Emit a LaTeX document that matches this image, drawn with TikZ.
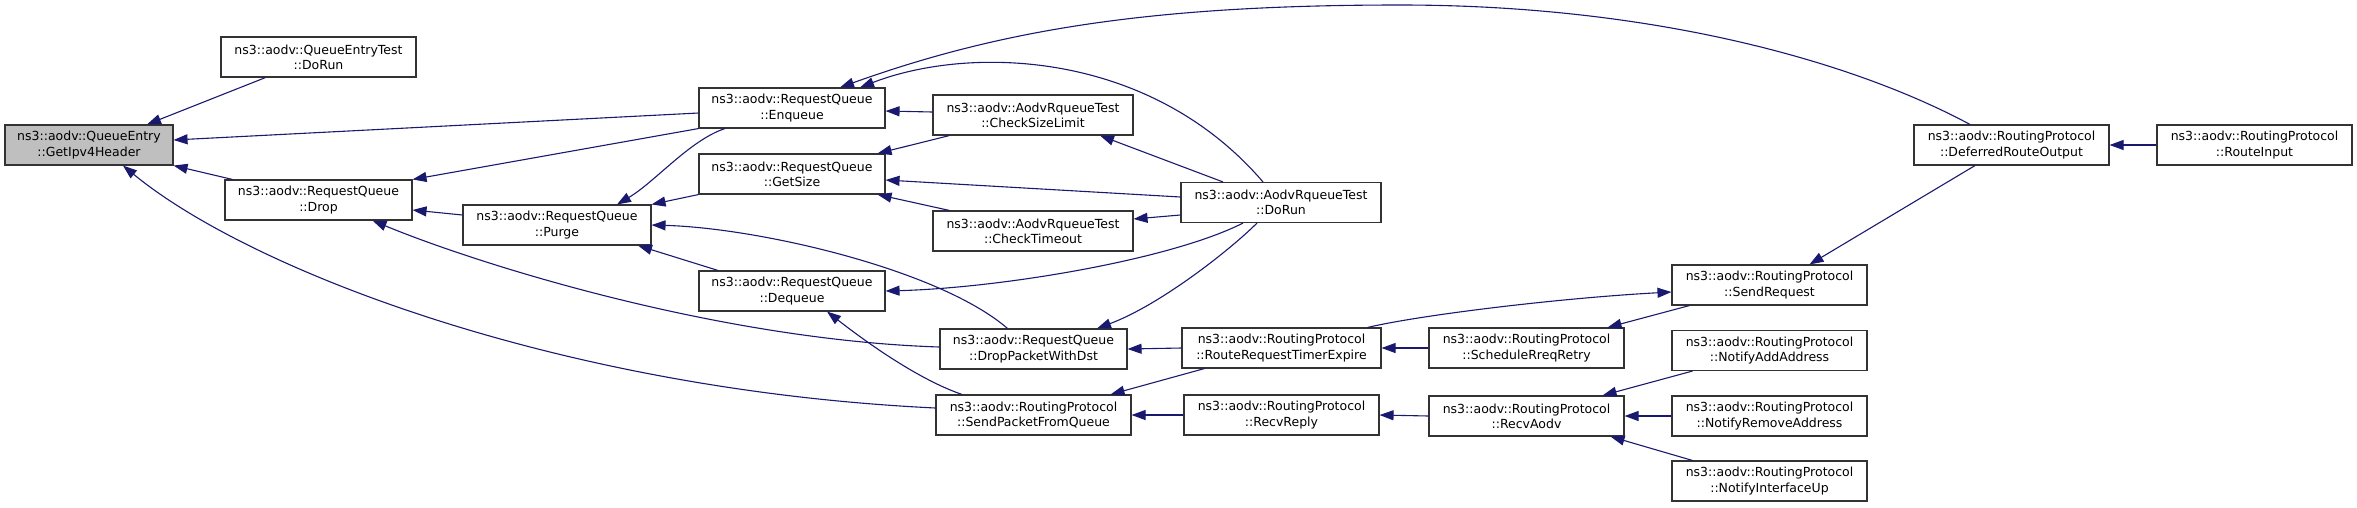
\documentclass[tikz,border=0pt]{standalone}
\usepackage{fontspec}
\setmainfont{DejaVu Sans}
\usetikzlibrary{arrows.meta}
\definecolor{edgec}{HTML}{191970}
\begin{document}
\begin{tikzpicture}[x=1pt,y=-1pt,
 box/.style={draw=black!80, line width=1.1pt, fill=white, minimum height=40pt, inner sep=0pt, align=center, font=\fontsize{12.5}{15.3}\selectfont},
 root/.style={box, fill=black!25},
 edge/.style={draw=edgec, line width=1.1pt, {Triangle[length=14pt,width=10pt]}-}
]
\useasboundingbox (0,0) rectangle (2357,507);
% nodes
\node[root, minimum width=168pt] (gip) at (89,145) {ns3::aodv::QueueEntry\\::GetIpv4Header};
\node[box, minimum width=195pt] (qet) at (318.5,57) {ns3::aodv::QueueEntryTest\\::DoRun};
\node[box, minimum width=187pt] (drop) at (318.5,200) {ns3::aodv::RequestQueue\\::Drop};
\node[box, minimum width=186pt] (enq) at (792,108) {ns3::aodv::RequestQueue\\::Enqueue};
\node[box, minimum width=188pt] (purge) at (557,225) {ns3::aodv::RequestQueue\\::Purge};
\node[box, minimum width=186pt] (gsz) at (792,174) {ns3::aodv::RequestQueue\\::GetSize};
\node[box, minimum width=186pt] (deq) at (792,291) {ns3::aodv::RequestQueue\\::Dequeue};
\node[box, minimum width=200pt] (csl) at (1033,115) {ns3::aodv::AodvRqueueTest\\::CheckSizeLimit};
\node[box, minimum width=200pt] (cto) at (1033,231) {ns3::aodv::AodvRqueueTest\\::CheckTimeout};
\node[box, minimum width=200pt] (dor) at (1281,202.5) {ns3::aodv::AodvRqueueTest\\::DoRun};
\node[box, minimum width=187pt] (dpw) at (1033.5,349) {ns3::aodv::RequestQueue\\::DropPacketWithDst};
\node[box, minimum width=195pt] (spq) at (1033.5,415) {ns3::aodv::RoutingProtocol\\::SendPacketFromQueue};
\node[box, minimum width=199pt] (rrt) at (1281.5,348) {ns3::aodv::RoutingProtocol\\::RouteRequestTimerExpire};
\node[box, minimum width=195pt] (rrp) at (1281.5,415) {ns3::aodv::RoutingProtocol\\::RecvReply};
\node[box, minimum width=195pt] (sreq) at (1769.5,285) {ns3::aodv::RoutingProtocol\\::SendRequest};
\node[box, minimum width=195pt] (srr) at (1526.5,348) {ns3::aodv::RoutingProtocol\\::ScheduleRreqRetry};
\node[box, minimum width=195pt] (raodv) at (1526.5,416) {ns3::aodv::RoutingProtocol\\::RecvAodv};
\node[box, minimum width=195pt] (nadd) at (1769.5,350.5) {ns3::aodv::RoutingProtocol\\::NotifyAddAddress};
\node[box, minimum width=195pt] (nrem) at (1769.5,416) {ns3::aodv::RoutingProtocol\\::NotifyRemoveAddress};
\node[box, minimum width=195pt] (nif) at (1769.5,481) {ns3::aodv::RoutingProtocol\\::NotifyInterfaceUp};
\node[box, minimum width=195pt] (dro) at (2011.5,145) {ns3::aodv::RoutingProtocol\\::DeferredRouteOutput};
\node[box, minimum width=195pt] (rin) at (2254.5,145) {ns3::aodv::RoutingProtocol\\::RouteInput};
% edges
\draw[edge] ([xshift=58pt]gip.north) -- ([xshift=-53pt]qet.south);
\draw[edge] ([yshift=5pt]gip.east) -- ([yshift=-5pt]enq.west);
\draw[edge] (gip.south east) -- ([xshift=8pt]drop.north west);
\draw[edge] ([xshift=34pt]gip.south) .. controls (250,270) and (560,390) .. ([yshift=7pt]spq.west);
\draw[edge] (drop.north east) -- (enq.south west);
\draw[edge] ([yshift=-10pt]drop.east) -- ([yshift=10pt]purge.west);
\draw[edge] ([xshift=54pt]drop.south) .. controls (480,265) and (720,340) .. ([yshift=2pt]dpw.west);
\draw[edge] ([xshift=60pt]purge.north) .. controls (655,182) and (690,140) .. ([xshift=-67pt]enq.south);
\draw[edge] (purge.north east) -- (gsz.south west);
\draw[edge] (purge.east) .. controls (760,228) and (940,270) .. ([xshift=-26pt]dpw.north);
\draw[edge] ([xshift=81pt]purge.south) -- ([xshift=-74pt]deq.north);
\draw[edge] ([xshift=48pt]enq.north) .. controls (1000,30) and (1150,5) .. (1400,5) .. controls (1650,5) and (1850,60) .. ([xshift=-41.5pt]dro.north);
\draw[edge] ([xshift=68pt]enq.north) .. controls (970,45) and (1150,50) .. ([xshift=-18pt]dor.north);
\draw[edge] ([yshift=-3pt]enq.east) -- ([yshift=3pt]csl.west);
\draw[edge] ([xshift=-8pt]gsz.north east) -- ([xshift=17pt]csl.south west);
\draw[edge] ([yshift=-6pt]gsz.east) -- ([yshift=5.5pt]dor.west);
\draw[edge] ([xshift=-8pt]gsz.south east) -- ([xshift=17pt]cto.north west);
\draw[edge] ([xshift=67pt]csl.south) -- ([xshift=-58pt]dor.north);
\draw[edge] ([yshift=12pt]cto.east) -- ([yshift=-12.5pt]dor.west);
\draw[edge] (deq.east) .. controls (1000,288) and (1170,260) .. ([xshift=-38pt]dor.south);
\draw[edge] ([xshift=63.5pt]dpw.north) .. controls (1160,305) and (1230,250) .. ([xshift=-24pt]dor.south);
\draw[edge] ([xshift=35pt]deq.south) .. controls (870,345) and (920,380) .. ([xshift=-71.5pt]spq.north);
\draw[edge] (dpw.east) -- (rrt.west);
\draw[edge] ([xshift=-21pt]spq.north east) -- ([xshift=23pt]rrt.south west);
\draw[edge] (spq.east) -- (rrp.west);
\draw[edge] (rrt.east) -- (srr.west);
\draw[edge] ([yshift=-7pt]sreq.west) .. controls (1560,298) and (1420,315) .. ([xshift=-14pt]rrt.north east);
\draw[edge] ([xshift=-17pt]srr.north east) -- ([xshift=18pt]sreq.south west);
\draw[edge] ([xshift=40pt]sreq.north) -- ([xshift=-36.5pt]dro.south);
\draw[edge] (dro.east) -- (rin.west);
\draw[edge] (rrp.east) -- (raodv.west);
\draw[edge] ([xshift=-22pt]raodv.north east) -- ([xshift=21pt]nadd.south west);
\draw[edge] (raodv.east) -- (nrem.west);
\draw[edge] ([xshift=-14pt]raodv.south east) -- ([xshift=21pt]nif.north west);
\end{tikzpicture}
\end{document}
